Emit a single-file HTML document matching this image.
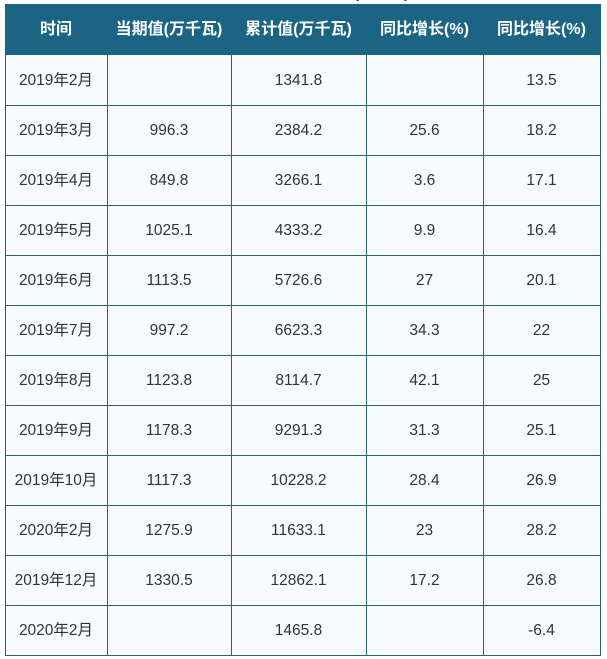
<!DOCTYPE html>
<html><head><meta charset="utf-8">
<style>
html,body{margin:0;padding:0;background:#fff;}
body{width:607px;height:659px;position:relative;overflow:hidden;font-family:"Liberation Sans","Noto Sans CJK SC",sans-serif;}
.t{position:absolute;left:170px;top:-14px;width:318px;font-size:15px;line-height:16px;font-weight:bold;color:#333;white-space:nowrap;text-align:center;overflow:hidden;}
.hd{position:absolute;left:5px;top:4px;width:596px;height:51px;background:#1b6483;}
.bd{position:absolute;left:5px;top:55px;width:596px;height:601px;background:#f7fbfe;}
.v{position:absolute;top:55px;width:1px;height:601px;background:#2b5f72;}
.h{position:absolute;left:5px;width:596px;height:1px;background:#2b5f72;}
.c{position:absolute;height:50px;line-height:52px;text-align:center;font-size:15.5px;color:#333;white-space:nowrap;}
.hc{position:absolute;top:4px;height:51px;line-height:51px;text-align:center;font-size:16px;font-weight:bold;color:#fff;white-space:nowrap;}
.c1{left:5px;width:102px}.c2{left:107px;width:124px}.c3{left:231px;width:135px}.c4{left:366px;width:117px}.c5{left:483px;width:117px}
</style></head><body>
<div class="t">全国太阳能发电装机容量(万千瓦)统计情况</div>
<div class="hd"></div>
<div class="bd"></div>
<div class="hc c1">时间</div>
<div class="hc c2">当期值(万千瓦)</div>
<div class="hc c3">累计值(万千瓦)</div>
<div class="hc c4">同比增长(%)</div>
<div class="hc c5">同比增长(%)</div>

<div class="v" style="left:5px"></div>
<div class="v" style="left:107px"></div>
<div class="v" style="left:231px"></div>
<div class="v" style="left:366px"></div>
<div class="v" style="left:483px"></div>
<div class="v" style="left:600px"></div>

<div class="h" style="top:105px"></div>
<div class="h" style="top:155px"></div>
<div class="h" style="top:205px"></div>
<div class="h" style="top:255px"></div>
<div class="h" style="top:305px"></div>
<div class="h" style="top:355px"></div>
<div class="h" style="top:405px"></div>
<div class="h" style="top:455px"></div>
<div class="h" style="top:505px"></div>
<div class="h" style="top:555px"></div>
<div class="h" style="top:605px"></div>
<div class="h" style="top:655px"></div>

<div class="c c1" style="top:55px">2019年2月</div><div class="c c2" style="top:55px"></div><div class="c c3" style="top:55px">1341.8</div><div class="c c4" style="top:55px"></div><div class="c c5" style="top:55px">13.5</div>
<div class="c c1" style="top:105px">2019年3月</div><div class="c c2" style="top:105px">996.3</div><div class="c c3" style="top:105px">2384.2</div><div class="c c4" style="top:105px">25.6</div><div class="c c5" style="top:105px">18.2</div>
<div class="c c1" style="top:155px">2019年4月</div><div class="c c2" style="top:155px">849.8</div><div class="c c3" style="top:155px">3266.1</div><div class="c c4" style="top:155px">3.6</div><div class="c c5" style="top:155px">17.1</div>
<div class="c c1" style="top:205px">2019年5月</div><div class="c c2" style="top:205px">1025.1</div><div class="c c3" style="top:205px">4333.2</div><div class="c c4" style="top:205px">9.9</div><div class="c c5" style="top:205px">16.4</div>
<div class="c c1" style="top:255px">2019年6月</div><div class="c c2" style="top:255px">1113.5</div><div class="c c3" style="top:255px">5726.6</div><div class="c c4" style="top:255px">27</div><div class="c c5" style="top:255px">20.1</div>
<div class="c c1" style="top:305px">2019年7月</div><div class="c c2" style="top:305px">997.2</div><div class="c c3" style="top:305px">6623.3</div><div class="c c4" style="top:305px">34.3</div><div class="c c5" style="top:305px">22</div>
<div class="c c1" style="top:355px">2019年8月</div><div class="c c2" style="top:355px">1123.8</div><div class="c c3" style="top:355px">8114.7</div><div class="c c4" style="top:355px">42.1</div><div class="c c5" style="top:355px">25</div>
<div class="c c1" style="top:405px">2019年9月</div><div class="c c2" style="top:405px">1178.3</div><div class="c c3" style="top:405px">9291.3</div><div class="c c4" style="top:405px">31.3</div><div class="c c5" style="top:405px">25.1</div>
<div class="c c1" style="top:455px">2019年10月</div><div class="c c2" style="top:455px">1117.3</div><div class="c c3" style="top:455px">10228.2</div><div class="c c4" style="top:455px">28.4</div><div class="c c5" style="top:455px">26.9</div>
<div class="c c1" style="top:505px">2020年2月</div><div class="c c2" style="top:505px">1275.9</div><div class="c c3" style="top:505px">11633.1</div><div class="c c4" style="top:505px">23</div><div class="c c5" style="top:505px">28.2</div>
<div class="c c1" style="top:555px">2019年12月</div><div class="c c2" style="top:555px">1330.5</div><div class="c c3" style="top:555px">12862.1</div><div class="c c4" style="top:555px">17.2</div><div class="c c5" style="top:555px">26.8</div>
<div class="c c1" style="top:605px">2020年2月</div><div class="c c2" style="top:605px"></div><div class="c c3" style="top:605px">1465.8</div><div class="c c4" style="top:605px"></div><div class="c c5" style="top:605px">-6.4</div>
</body></html>
